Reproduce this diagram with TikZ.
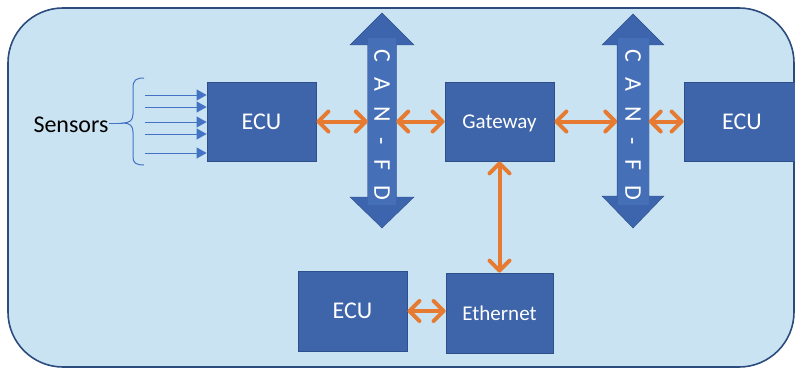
\documentclass[tikz,border=0pt]{standalone}
\usepackage{fontspec}
\setmainfont{Carlito}
\usepackage{graphicx}
\usetikzlibrary{arrows.meta}
\definecolor{bgfill}{HTML}{CAE3F3}
\definecolor{bgline}{HTML}{2C4C7E}
\definecolor{boxfill}{HTML}{3E64A9}
\definecolor{boxline}{HTML}{2D4F8C}
\definecolor{busfill}{HTML}{3D65AD}
\definecolor{bustext}{HTML}{4570B7}
\definecolor{orng}{HTML}{E57A30}
\definecolor{sens}{HTML}{4472C4}
\begin{document}
\begin{tikzpicture}[x=1pt,y=-1pt,
  unit/.style={draw=boxline, line width=0.8pt, fill=boxfill, text=white,
    inner sep=0pt, text depth=0pt, font=\fontsize{24}{28}\selectfont},
  smallunit/.style={unit, font=\fontsize{21}{25}\selectfont},
  barb/.tip={Straight Barb[length=10pt,width=20pt,line cap=round,line join=round]},
  link/.style={draw=orng, line width=4pt, barb-barb},
  bus/.style={fill=busfill, draw=boxline, line width=0.4pt},
  bustxt/.style={fill=bustext, text=white, inner sep=0pt, minimum width=28pt,
    minimum height=166pt, font=\fontsize{24}{28}\selectfont},
  sensline/.style={draw=sens, line width=1pt},
  sensarrow/.style={sensline, -{Triangle[length=10pt,width=11pt]}}
]
\useasboundingbox (0,0) rectangle (795,369);
% background panel
\draw[bgline, fill=bgfill, line width=1.6pt, rounded corners=55pt] (8,8) rectangle (794,367);

% CAN-FD buses
\path[bus] (382,13) -- (414,45) -- (396.5,45) -- (396.5,197) -- (414,197) -- (382,228)
  -- (350,197) -- (367.5,197) -- (367.5,45) -- (350,45) -- cycle;
\path[bus] (633,14) -- (664,45) -- (649,45) -- (649,196) -- (664,196) -- (633,228)
  -- (602,196) -- (617,196) -- (617,45) -- (602,45) -- cycle;
\node[bustxt] (can1) at (382,121.5) {\rotatebox{-90}{\hspace*{7pt}\spaceskip=15pt C A N - F D}};
\node[bustxt, minimum width=31pt] (can2) at (633,121.5) {\rotatebox{-90}{\hspace*{7pt}\spaceskip=15pt C A N - F D}};

% units
\node[unit, minimum width=109pt, minimum height=79pt] (ecu1) at (261.5,121.5) {ECU};
\node[smallunit, minimum width=109pt, minimum height=79pt] (gw) at (499.5,121.5) {Gateway};
\node[unit, minimum width=116pt, minimum height=79pt] (ecu2) at (742,121.5) {ECU};
\node[unit, minimum width=109pt, minimum height=80pt] (ecu3) at (352.5,311) {ECU};
\node[smallunit, minimum width=107pt, minimum height=80pt] (eth) at (499.5,313) {Ethernet};

% sensors
\node[inner sep=0pt, font=\fontsize{24}{28}\selectfont] (sensors) at (71,125) {Sensors};
\coordinate (bt) at (123,123);
\draw[sensline] (144,78) .. controls (136,78) and (133,80) .. (133,88) -- (133,114)
  .. controls (133,120) and (130,123) .. (bt)
  .. controls (130,123) and (133,126) .. (133,132) -- (133,157)
  .. controls (133,163) and (136,165) .. (144,165);
\draw[sensline] (sensors.east |- bt) -- (bt);
\foreach \i/\y in {1/95,2/107,3/122,4/134,5/153}{
  \coordinate (s\i) at (145,\y);
  \draw[sensarrow] (s\i) -- (s\i -| ecu1.west);
}

% orange links
\draw[link] (ecu1.east) -- (can1.west);
\draw[link] (can1.east) -- (gw.west);
\draw[link] (gw.east) -- (can2.west);
\draw[link] (can2.east) -- (ecu2.west);
\draw[link] (gw.south) -- (eth.north);
\draw[link] (ecu3.east) -- (ecu3.east -| eth.west);
\end{tikzpicture}
\end{document}
